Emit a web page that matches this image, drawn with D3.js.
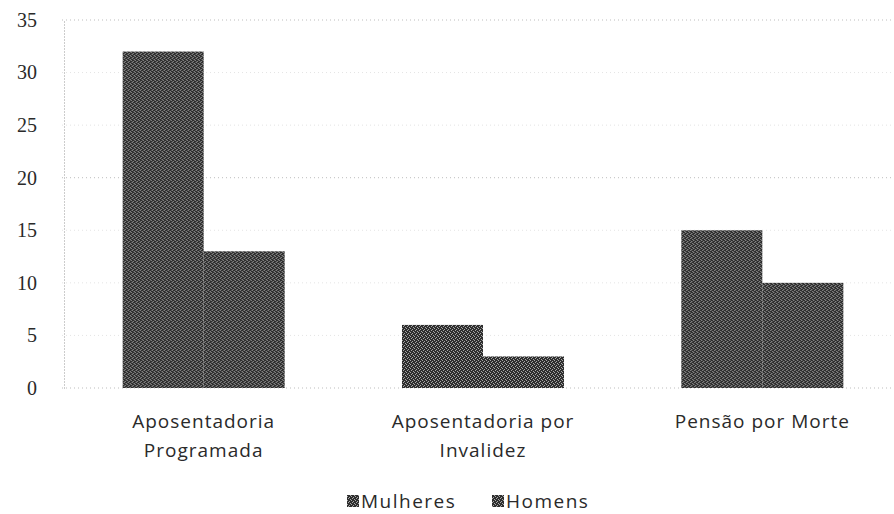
<!DOCTYPE html>
<head>
<meta charset="utf-8">
<script src="https://d3js.org/d3.v7.min.js"></script>
<style>
  body { margin: 0; background: #fff; }
  text { font-family: "Open Sans", sans-serif; fill: #2a2a2a; }
  .grid line { stroke: #bdbdbd; stroke-dasharray: 1,3; }
  .grid line.faint { stroke: #e4e4e4; }
</style>
</head>
<body>
<div id="my_dataviz"></div>
<script>

// data
var categories = [["Aposentadoria", "Programada"], ["Aposentadoria por", "Invalidez"], ["Pensão por Morte"]];
var seriesNames = ["Mulheres", "Homens"];
var mulheres = [32, 6, 15];
var homens = [13, 3, 10];
var yTicks = [0, 5, 10, 15, 20, 25, 30, 35];

var W = 894, H = 514;
var margin = {top: 20, right: -8, bottom: 126, left: 64},
    width = W - margin.left - margin.right,
    height = H - margin.top - margin.bottom;

var svg = d3.select("#my_dataviz")
  .append("svg")
    .attr("width", W)
    .attr("height", H);

// dithered dark fill like the scanned original
var defs = svg.append("defs");
var pat = defs.append("pattern")
    .attr("id", "dither")
    .attr("width", 4).attr("height", 4)
    .attr("patternUnits", "userSpaceOnUse");
pat.append("rect").attr("width", 4).attr("height", 4).attr("fill", "#2e2e2e");
[[0,0],[2,1],[1,2],[3,3]].forEach(function(p){
  pat.append("rect").attr("x", p[0]).attr("y", p[1]).attr("width", 1).attr("height", 1).attr("fill", "#a8a8a8");
});

var g = svg.append("g")
  .attr("transform", "translate(" + margin.left + "," + margin.top + ")");

var keys = categories.map(function(c, i){ return "c" + i; });

var x0 = d3.scaleBand()
  .domain(keys)
  .range([0, width])
  .paddingInner(0.42)
  .paddingOuter(0.21);

var x1 = d3.scaleBand()
  .domain(seriesNames)
  .range([0, x0.bandwidth()]);

var y = d3.scaleLinear()
  .domain([0, 35])
  .range([height, 0]);

// gridlines (only 20 and 35 survive clearly in the original)
g.append("g")
  .attr("class", "grid")
  .selectAll("line")
  .data(yTicks)
  .enter()
  .append("line")
    .attr("class", function(d){ return (d === 20 || d === 35 || d === 0) ? null : "faint"; })
    .attr("x1", -2)
    .attr("x2", width)
    .attr("y1", function(d){ return y(d); })
    .attr("y2", function(d){ return y(d); });

// y axis
var yAxis = g.append("g")
  .call(d3.axisLeft(y).tickValues(yTicks).tickSize(0).tickPadding(27));
yAxis.select(".domain").attr("stroke", "#999").attr("stroke-dasharray", "1,2");
yAxis.selectAll("text")
  .style("font-family", "Liberation Serif, serif")
  .style("font-size", "20px")
  .attr("fill", "#333");

// bars
var rows = keys.map(function(k, i){
  return {key: k, values: [mulheres[i], homens[i]]};
});

g.selectAll(".grp")
  .data(rows)
  .enter()
  .append("g")
    .attr("transform", function(d){ return "translate(" + x0(d.key) + ",0)"; })
  .selectAll("rect")
  .data(function(d){ return d.values.map(function(v, j){ return {s: seriesNames[j], v: v}; }); })
  .enter()
  .append("rect")
    .attr("x", function(d){ return x1(d.s); })
    .attr("y", function(d){ return y(d.v); })
    .attr("width", x1.bandwidth())
    .attr("height", function(d){ return height - y(d.v); })
    .attr("fill", "url(#dither)");

// category labels
var lab = g.selectAll(".cat")
  .data(categories)
  .enter()
  .append("text")
    .attr("text-anchor", "middle")
    .attr("x", function(d, i){ return x0(keys[i]) + x0.bandwidth() / 2; })
    .attr("y", height + 40)
    .style("font-size", "19px")
    .style("letter-spacing", "1px");
lab.selectAll("tspan")
  .data(function(d){ return d; })
  .enter()
  .append("tspan")
    .attr("x", function(){ return d3.select(this.parentNode).attr("x"); })
    .attr("dy", function(d, i){ return i === 0 ? 0 : 29; })
    .text(function(d){ return d; });

// legend
var legend = svg.append("g").attr("transform", "translate(347,508)");
var lx = [0, 145];
seriesNames.forEach(function(s, i){
  legend.append("rect")
    .attr("x", lx[i]).attr("y", -13)
    .attr("width", 12).attr("height", 12)
    .attr("fill", "url(#dither)");
  legend.append("text")
    .attr("x", lx[i] + 14)
    .attr("y", 0)
    .style("font-size", "19px")
    .style("letter-spacing", "1.5px")
    .text(s);
});

</script>
</body>
